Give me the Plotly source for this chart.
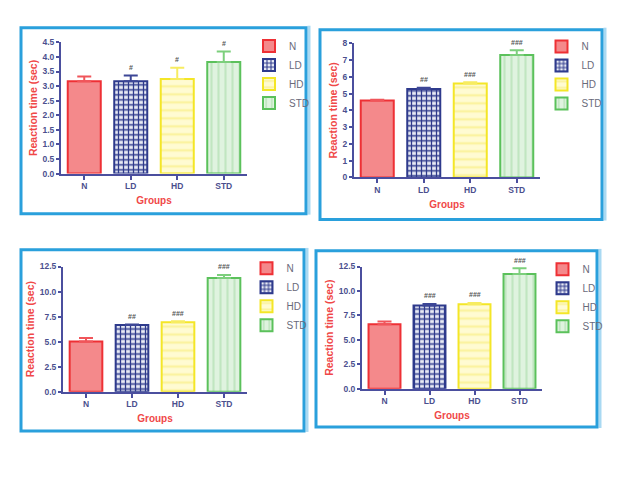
import plotly.graph_objects as go

groups = ["N", "LD", "HD", "STD"]

p1_means = [3.17, 3.17, 3.24, 3.83]
p1_sem = [0.16, 0.19, 0.39, 0.36]
p1_sig = ["", "#", "#", "#"]

p2_means = [4.59, 5.27, 5.60, 7.30]
p2_sem = [0.05, 0.08, 0.08, 0.29]
p2_sig = ["", "##", "###", "###"]

p3_means = [5.03, 6.66, 6.95, 11.36]
p3_sem = [0.33, 0.05, 0.10, 0.30]
p3_sig = ["", "##", "###", "###"]

p4_means = [6.60, 8.51, 8.65, 11.73]
p4_sem = [0.27, 0.17, 0.13, 0.60]
p4_sig = ["", "###", "###", "###"]

y_ranges = [[0, 4.5], [0, 8], [0, 12.5], [0, 12.5]]
y_dticks = [0.5, 1, 2.5, 2.5]
y_formats = [".1f", "d", ".1f", ".1f"]

# the page body has an 8px margin; the figure fills the rest of the window
OFF = 8
W, H = 640 - OFF, 480 - OFF


def px_x(p):
    return (p - OFF) / W


def px_y(p):
    return 1 - (p - OFF) / H


# panel geometry in window pixels: axes box (x0, x1, ytop, ybottom), border box, legend pos
axes_px = [
    (61, 247, 38, 172),
    (354, 540, 39, 176),
    (63, 247, 267, 395),
    (362, 542, 267, 392),
]
border_px = [
    (21, 306, 23, 213),
    (320, 602, 25, 219),
    (21, 304, 250, 435),
    (316, 597, 251, 431),
]
legend_px = [(249, 27), (541.5, 27.5), (246.5, 254), (542.5, 255)]

styles = {
    "N": dict(fill="#f4898b", line="#ee3035", err="#f0555a",
              pattern=None),
    "LD": dict(fill="#ffffff", line="#2e3a8c", err="#3c4696",
               pattern=dict(shape="+", fgcolor="#2e3a8c", bgcolor="#e8ebf5",
                            size=5, solidity=0.45)),
    "HD": dict(fill="#fdf8b4", line="#f4e627", err="#f7ec60",
               pattern=dict(shape="-", fgcolor="#fbf3a0", bgcolor="#fffbd2",
                            size=8, solidity=0.3)),
    "STD": dict(fill="#d4efd4", line="#5bc15b", err="#7ccf7c",
                pattern=dict(shape="|", fgcolor="#c0e6c0", bgcolor="#dff3df",
                             size=7, solidity=0.3)),
}

panels = [
    (p1_means, p1_sem, p1_sig),
    (p2_means, p2_sem, p2_sig),
    (p3_means, p3_sem, p3_sig),
    (p4_means, p4_sem, p4_sig),
]

axis_col = "#4b4f9e"
tick_font = dict(family="Liberation Sans", size=8.5, color="#4b4f8e", weight="bold")
ytitle_font = dict(family="Liberation Sans", size=10.5, color="#f04848", weight="bold")
xtitle_font = dict(family="Liberation Sans", size=10, color="#f04848", weight="bold")

fig = go.Figure()
annotations = []
layout_axes = {}

for pi, (means, sems, sigs) in enumerate(panels):
    k = "" if pi == 0 else str(pi + 1)
    xref, yref = "x" + k, "y" + k
    leg = "legend" + k
    for gi, g in enumerate(groups):
        s = styles[g]
        marker = dict(color=s["fill"], line=dict(color=s["line"], width=2))
        if s["pattern"] is not None:
            marker["pattern"] = dict(s["pattern"], fillmode="replace")
        fig.add_trace(go.Bar(
            x=[g], y=[means[gi]], name=g, xaxis=xref, yaxis=yref,
            legend=leg, width=0.71, marker=marker,
            error_y=dict(type="data", symmetric=False, array=[sems[gi]],
                         arrayminus=[0], color=s["err"], thickness=2, width=7),
            showlegend=True,
        ))
        if sigs[gi]:
            annotations.append(dict(
                x=g, y=means[gi] + sems[gi], xref=xref, yref=yref,
                text=sigs[gi], showarrow=False, yshift=8,
                font=dict(family="Liberation Sans", size=7, color="#555555", weight="bold"),
            ))
    x0, x1, yt, yb = axes_px[pi]
    layout_axes["xaxis" + k] = dict(
        domain=[px_x(x0), px_x(x1)], anchor=yref, type="category",
        categoryorder="array", categoryarray=groups, range=[-0.5, 3.5],
        showline=True, linecolor=axis_col, linewidth=2,
        ticks="outside", ticklen=4, tickwidth=2, tickcolor=axis_col,
        tickfont=tick_font, showgrid=False, zeroline=False,
        ticklabelstandoff=-1,
        title=dict(text="Groups", font=xtitle_font, standoff=7),
    )
    layout_axes["yaxis" + k] = dict(
        domain=[px_y(yb), px_y(yt)], anchor=xref,
        range=y_ranges[pi], dtick=y_dticks[pi], tick0=0, tickformat=y_formats[pi],
        showline=True, linecolor=axis_col, linewidth=2,
        ticks="outside", ticklen=3, tickwidth=2, tickcolor=axis_col,
        tickfont=tick_font, showgrid=False, zeroline=False,
        title=dict(text="Reaction time (sec)", font=ytitle_font, standoff=3),
    )
    lx, ly = legend_px[pi]
    layout_axes[leg] = dict(
        x=px_x(lx), y=px_y(ly), xanchor="left", yanchor="top",
        font=dict(family="Liberation Sans", size=10, color="#6a6a7a"),
        bgcolor="rgba(0,0,0,0)", itemclick=False, tracegroupgap=0,
    )

shapes = []
for (bx0, bx1, by0, by1) in border_px:
    # light shadow on the right
    shapes.append(dict(type="line", xref="paper", yref="paper",
                       x0=px_x(bx1 + 3), x1=px_x(bx1 + 3),
                       y0=px_y(by1 + 1), y1=px_y(by0 - 2),
                       line=dict(color="#a9d9f2", width=3)))
    shapes.append(dict(type="rect", xref="paper", yref="paper",
                       x0=px_x(bx0), x1=px_x(bx1), y0=px_y(by1), y1=px_y(by0),
                       line=dict(color="#2aa0dc", width=3)))

fig.update_layout(
    width=W, height=H, margin=dict(l=0, r=0, t=0, b=0),
    paper_bgcolor="white", plot_bgcolor="white",
    barmode="overlay", shapes=shapes, annotations=annotations,
    **layout_axes,
)

fig.write_html("out.html")
